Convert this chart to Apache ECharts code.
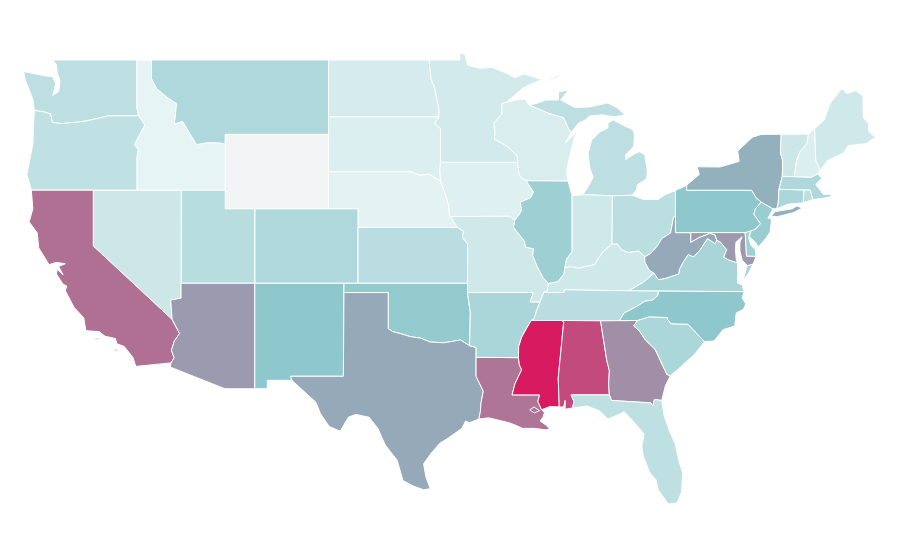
<!DOCTYPE html>
<html>
<head>
    <meta charset="UTF-8">
    <title>USA map</title>
    <script src="https://cdn.jsdelivr.net/npm/echarts@6/dist/echarts.min.js"></script>
</head>
<body style="margin:0; background:#fff">
    <div id="main" style="width:900px; height:560px"></div>
    <script>
        // values; Wyoming has no value and keeps the plain area colour
        var stateNames = ['Alabama','Arizona','Arkansas','California','Colorado','Connecticut','Delaware','Florida','Georgia','Idaho','Illinois','Indiana','Iowa','Kansas','Kentucky','Louisiana','Maine','Maryland','Massachusetts','Michigan','Minnesota','Mississippi','Missouri','Montana','Nebraska','Nevada','New Hampshire','New Jersey','New Mexico','New York','North Carolina','North Dakota','Ohio','Oklahoma','Oregon','Pennsylvania','Rhode Island','South Carolina','South Dakota','Tennessee','Texas','Utah','Vermont','Virginia','Washington','West Virginia','Wisconsin','Wyoming'];
        var stateValues = [86,56.5,17.5,75,16.5,17,20.5,11.8,61.5,1.3,20.8,7.5,3.5,13.5,7.5,73,7.5,57,16.5,12.5,6.7,100,7.5,16.5,2.2,8,4,22,25,43.5,25,6,13,24,11.5,25.5,12.5,17,4,13.5,50,13.8,8,17.8,12.5,50,4.8,'-'];
        var paletteColors = ['#ebf6f7','#8ec8cc','#95a9b8','#b07094','#d81a60'];

        // shared state borders in lon/lat
        var columbia = [[-124.0,46.28],[-123.4,46.22],[-122.9,46.1],[-122.78,45.65],[-122.2,45.58],[-121.2,45.65],[-120.5,45.72],[-119.3,45.93],[-118.98,46.0],[-116.92,46.0]];
        var snake = [[-116.92,46.0],[-116.5,45.5],[-116.85,45.0],[-117.2,44.45],[-116.95,44.2],[-117.03,43.8],[-117.03,42.0]];
        var idMt = [[-116.05,49.0],[-116.05,48.0],[-115.7,47.45],[-115.0,47.0],[-114.35,46.65],[-114.5,45.55],[-113.95,45.7],[-113.45,45.05],[-113.0,44.45],[-112.3,44.55],[-111.5,44.55],[-111.05,44.48]];
        var coloradoNv = [[-114.05,36.2],[-114.75,36.1],[-114.65,35.05]];
        var coloradoCa = [[-114.65,35.05],[-114.15,34.3],[-114.5,33.9],[-114.7,33.4],[-114.52,33.0],[-114.72,32.72]];
        var redRiverN = [[-97.23,49.0],[-97.1,48.0],[-96.85,47.5],[-96.55,46.3],[-96.56,45.94]];
        var sdMn = [[-96.56,45.94],[-96.85,45.6],[-96.45,45.3],[-96.45,43.5]];
        var sdIa = [[-96.45,43.5],[-96.5,43.05],[-96.45,42.49]];
        var sdNe = [[-104.05,43.0],[-98.5,43.0],[-97.9,42.8],[-97.2,42.85],[-96.7,42.6],[-96.45,42.49]];
        var neIa = [[-96.45,42.49],[-96.1,41.7],[-95.9,41.2],[-95.85,40.7],[-95.77,40.58]];
        var neMo = [[-95.77,40.58],[-95.3,40.0]];
        var ksMo = [[-95.3,40.0],[-94.9,39.8],[-94.95,39.45],[-94.61,39.11],[-94.62,37.0]];
        var redRiverS = [[-94.48,33.64],[-95.1,33.95],[-95.7,33.87],[-96.25,33.8],[-97.15,33.84],[-97.8,34.05],[-98.5,34.13],[-99.2,34.3],[-99.7,34.4],[-100.0,34.56]];
        var sabine = [[-94.04,32.0],[-93.55,31.2],[-93.7,30.6],[-93.75,30.1],[-93.85,29.7]];
        var mnWi = [[-92.02,46.71],[-92.29,46.66],[-92.29,46.08],[-92.85,45.6],[-92.75,45.1],[-92.8,44.75],[-92.0,44.4],[-91.25,43.85],[-91.22,43.5]];
        var iaWi = [[-91.22,43.5],[-91.15,43.0],[-91.05,42.73],[-90.64,42.51]];
        var iaIl = [[-90.64,42.51],[-90.15,41.9],[-90.34,41.6],[-91.05,41.35],[-90.95,40.95],[-91.1,40.7],[-91.42,40.38]];
        var moIl = [[-91.42,40.38],[-91.5,40.0],[-90.75,39.25],[-90.7,38.95],[-90.15,38.85],[-90.2,38.5],[-89.9,37.9],[-89.5,37.3],[-89.13,36.98]];
        var moKy = [[-89.13,36.98],[-89.2,36.6],[-89.45,36.5]];
        var moTn = [[-89.45,36.5],[-89.7,36.0]];
        var arTn = [[-89.7,36.0],[-89.95,35.5],[-90.1,35.1],[-90.3,35.0]];
        var arMs = [[-90.3,35.0],[-90.6,34.6],[-90.95,34.1],[-91.15,33.6],[-91.17,33.0]];
        var laMs = [[-91.17,33.0],[-91.1,32.6],[-90.95,32.35],[-91.4,31.6],[-91.6,31.0],[-89.73,31.0],[-89.85,30.65],[-89.6,30.2]];
        var ilKy = [[-89.13,36.98],[-88.5,37.08],[-88.07,37.5],[-88.03,37.8]];
        var inKy = [[-88.03,37.8],[-87.6,37.9],[-87.1,37.8],[-86.6,37.9],[-86.0,38.0],[-85.8,38.27],[-85.4,38.72],[-84.82,39.1]];
        var ohKy = [[-84.82,39.1],[-84.45,39.1],[-84.2,38.8],[-83.7,38.65],[-83.0,38.73],[-82.6,38.42]];
        var ohWv = [[-82.6,38.42],[-82.2,38.6],[-81.75,39.0],[-81.45,39.4],[-80.85,39.7],[-80.65,40.55],[-80.52,40.64]];
        var wabash = [[-88.03,37.8],[-87.9,38.3],[-87.53,38.7],[-87.53,39.35],[-87.53,41.7]];
        var kyWv = [[-82.6,38.42],[-82.6,38.15],[-82.3,37.7],[-81.97,37.54]];
        var kyVa = [[-81.97,37.54],[-82.7,37.05],[-83.68,36.6]];
        var tnNc = [[-81.68,36.59],[-81.7,36.35],[-82.05,36.1],[-82.6,36.03],[-83.1,35.77],[-84.0,35.4],[-84.32,34.99]];
        var msAl = [[-88.2,35.0],[-88.1,34.9],[-88.47,31.9],[-88.4,30.35]];
        var alGa = [[-85.6,34.98],[-85.18,32.87],[-85.0,32.3],[-85.05,31.55],[-85.0,31.0]];
        var gaSc = [[-83.1,35.0],[-83.35,34.7],[-83.0,34.47],[-82.55,33.95],[-81.9,33.45],[-81.4,32.6],[-81.1,32.1],[-80.87,32.03]];
        var gaFl = [[-85.0,31.0],[-84.86,30.7],[-82.2,30.57],[-82.05,30.4],[-81.95,30.75],[-81.45,30.7]];
        var ncSc = [[-83.1,35.0],[-82.3,35.2],[-81.05,35.15],[-81.05,35.05],[-80.8,34.82],[-79.67,34.8],[-78.55,33.86]];
        var wvVa = [[-81.97,37.54],[-81.68,37.2],[-81.25,37.25],[-80.3,37.5],[-80.25,37.75],[-79.95,38.2],[-79.65,38.55],[-79.3,38.42],[-78.87,38.77],[-78.35,39.4],[-77.83,39.13],[-77.72,39.32]];
        var mdVa = [[-77.72,39.32],[-77.45,39.2],[-77.04,38.8],[-77.25,38.4],[-76.9,38.25],[-76.32,38.1]];
        var mdWv = [[-79.48,39.72],[-79.48,39.2],[-78.95,39.45],[-78.4,39.62],[-78.2,39.69],[-77.83,39.6],[-77.72,39.32]];
        var paNj = [[-74.7,41.36],[-75.1,41.0],[-75.2,40.7],[-74.75,40.2],[-75.1,39.9],[-75.42,39.8]];
        var nyPa = [[-75.35,42.0],[-75.05,41.6],[-74.7,41.36]];
        var deCoast = [[-75.42,39.8],[-75.55,39.45],[-75.4,39.05],[-75.1,38.8],[-75.05,38.45]];
        var vtWest = [[-73.35,45.01],[-73.4,44.0],[-73.25,43.6],[-73.27,42.75]];
        var vtNh = [[-71.5,45.01],[-71.6,44.5],[-72.05,44.1],[-72.3,43.6],[-72.46,42.73]];
        var nhMe = [[-71.08,45.3],[-71.0,43.6],[-70.7,43.07]];
        var wiMi = [[-90.42,46.57],[-89.1,46.13],[-88.1,45.9],[-87.8,45.35],[-87.6,45.1]];

        function rev(a) { return a.slice().reverse(); }
        function ring() {
            var pts = [];
            for (var i = 0; i < arguments.length; i++) pts = pts.concat(arguments[i]);
            pts.push(pts[0]);
            return pts;
        }

        var shapes = {
            'Washington': [[ring([[-124.73,48.38],[-124.6,47.9],[-124.1,46.9]], columbia, [[-117.04,46.42],[-117.04,49.0],[-122.76,49.0],[-122.5,48.75],[-122.45,48.3],[-122.25,47.9],[-122.35,47.3],[-122.75,47.1],[-122.55,47.7],[-122.75,48.1],[-123.1,48.12]])]],
            'Oregon': [[ring(rev(columbia), [[-124.05,45.5],[-124.1,44.5],[-124.5,42.85],[-124.2,42.0]], rev(snake))]],
            'Idaho': [[ring([[-117.04,49.0]], idMt, [[-111.05,42.0]], rev(snake), [[-117.04,46.42]])]],
            'Montana': [[ring([[-104.05,49.0],[-104.05,45.0],[-111.05,45.0]], rev(idMt))]],
            'North Dakota': [[ring([[-104.05,49.0]], redRiverN, [[-104.05,45.94]])]],
            'South Dakota': [[ring([[-104.05,45.94]], sdMn, sdIa, rev(sdNe))]],
            'Wyoming': [[ring([[-111.05,45.0],[-104.05,45.0],[-104.05,41.0],[-111.05,41.0]])]],
            'Nebraska': [[ring(sdNe, neIa, neMo, [[-102.05,40.0],[-102.05,41.0],[-104.05,41.0]])]],
            'Colorado': [[ring([[-109.05,41.0],[-102.05,41.0],[-102.05,37.0],[-109.05,37.0]])]],
            'Kansas': [[ring([[-102.05,40.0]], ksMo, [[-102.05,37.0]])]],
            'Utah': [[ring([[-114.04,42.0],[-111.05,42.0],[-111.05,41.0],[-109.05,41.0],[-109.05,37.0],[-114.05,37.0]])]],
            'Nevada': [[ring([[-120.0,42.0],[-114.04,42.0],[-114.05,37.0]], coloradoNv, [[-120.0,39.0]])]],
            'California': [
                [ring([[-124.2,42.0],[-120.0,42.0],[-120.0,39.0]], coloradoCa, [[-117.12,32.53],[-117.3,33.0],[-117.9,33.6],[-118.4,33.75],[-118.5,34.03],[-119.2,34.15],[-119.6,34.4],[-120.5,34.45],[-120.65,35.15],[-121.3,35.7],[-121.9,36.6],[-121.8,36.85],[-122.05,36.95],[-122.5,37.5],[-122.45,37.75],[-122.05,37.45],[-122.35,37.9],[-121.9,38.05],[-122.5,38.12],[-123.0,38.0],[-123.7,38.9],[-123.8,39.7],[-124.35,40.3],[-124.1,41.0]])],
                [ring([[-119.9,34.05],[-119.6,34.05],[-119.6,33.97],[-119.9,33.97]])],
                [ring([[-118.6,33.48],[-118.35,33.4],[-118.35,33.33],[-118.6,33.4]])]
            ],
            'Arizona': [[ring([[-114.05,37.0],[-109.05,37.0],[-109.05,31.33],[-111.07,31.33],[-114.8,32.5]], rev(coloradoCa), rev(coloradoNv))]],
            'New Mexico': [[ring([[-109.05,37.0],[-103.0,37.0],[-103.04,32.0],[-106.62,32.0],[-106.53,31.78],[-108.2,31.78],[-108.2,31.33],[-109.05,31.33]])]],
            'Oklahoma': [[ring([[-103.0,37.0],[-94.62,37.0],[-94.62,36.5],[-94.43,35.4]], redRiverS, [[-100.0,36.5],[-103.0,36.5]])]],
            'Texas': [[ring([[-103.0,36.5],[-100.0,36.5]], rev(redRiverS), [[-94.04,33.55],[-94.04,33.02]], sabine, [[-94.5,29.5],[-94.75,29.6],[-95.0,29.2],[-95.9,28.7],[-96.5,28.4],[-97.1,27.85],[-97.6,27.3],[-97.45,26.6],[-97.15,25.96],[-97.6,25.9],[-98.3,26.1],[-99.0,26.4],[-99.4,27.5],[-100.2,28.3],[-100.7,29.2],[-101.3,29.8],[-102.2,29.95],[-102.7,29.8],[-103.25,29.05],[-104.0,29.3],[-104.6,30.0],[-104.9,30.6],[-106.53,31.78],[-106.62,32.0],[-103.04,32.0]])]],
            'Louisiana': [[ring([[-94.04,33.02]], laMs, [[-89.4,30.05],[-89.5,29.8],[-89.7,29.6],[-89.25,29.35],[-89.05,29.15],[-89.3,29.12],[-90.1,29.2],[-90.9,29.2],[-91.3,29.35],[-91.8,29.5],[-92.3,29.6],[-93.2,29.77]], rev(sabine)),
                ring([[-90.4,30.2],[-90.1,30.35],[-89.75,30.15],[-90.1,30.03]])]],
            'Arkansas': [[ring([[-94.62,36.5],[-90.15,36.5],[-90.37,36.0]], arTn, arMs, [[-94.04,33.02],[-94.04,33.55],[-94.48,33.64],[-94.43,35.4]])]],
            'Missouri': [[ring([[-95.77,40.58],[-91.73,40.61]], moIl, moKy, moTn, [[-90.37,36.0],[-90.15,36.5],[-94.62,36.5]], rev(ksMo), rev(neMo))]],
            'Iowa': [[ring([[-96.45,43.5]], iaWi, iaIl, [[-91.73,40.61]], rev(neIa), rev(sdIa))]],
            'Minnesota': [[ring(redRiverN, sdMn, rev(mnWi), [[-90.85,47.5],[-89.6,47.95],[-90.8,48.25],[-91.4,48.05],[-92.0,48.3],[-92.95,48.6],[-93.8,48.55],[-94.6,48.72],[-94.8,49.3],[-95.15,49.38],[-95.15,49.0]]).reverse()]],
            'Wisconsin': [[ring([[-92.02,46.71],[-91.2,46.87],[-90.75,46.9]], wiMi, [[-88.0,44.55],[-87.45,44.95],[-87.15,45.2],[-87.35,44.85],[-87.5,44.45],[-87.7,43.8],[-87.9,43.0],[-87.8,42.49]], rev(iaWi), rev(mnWi))]],
            'Michigan': [
                [ring(wiMi, [[-87.1,45.6],[-86.7,45.75],[-86.3,46.0],[-85.5,46.05],[-84.7,45.95],[-83.9,46.05],[-84.1,46.15],[-84.45,46.42],[-85.1,46.69],[-86.4,46.47],[-87.35,46.45],[-88.3,46.85],[-87.78,47.39],[-88.45,47.28],[-88.45,46.85],[-89.3,46.85],[-89.8,46.7]])],
                [ring([[-84.75,45.78],[-85.1,45.6],[-85.1,45.35],[-85.6,45.15],[-86.2,44.7],[-86.45,43.95],[-86.33,43.2],[-86.1,42.7],[-86.5,42.1],[-86.82,41.76],[-84.8,41.7],[-83.45,41.73],[-83.15,42.05],[-83.1,42.3],[-82.5,42.6],[-82.42,43.0],[-82.6,43.9],[-82.95,44.07],[-83.3,43.95],[-83.9,43.65],[-83.9,43.9],[-83.35,44.35],[-83.3,45.0],[-83.4,45.25],[-84.1,45.5]])],
                [ring([[-89.2,47.85],[-88.5,48.17],[-88.45,48.1],[-89.1,47.85]])]
            ],
            'Illinois': [[ring(iaIl, moIl, ilKy, wabash, [[-87.8,42.49]])]],
            'Indiana': [[ring([[-87.53,41.7],[-86.82,41.76],[-84.8,41.7]], rev(inKy), wabash.slice(1, 4))]],
            'Ohio': [[ring([[-84.8,41.7],[-83.45,41.73],[-82.7,41.5],[-81.7,41.5],[-81.2,41.77],[-80.52,41.98]], rev(ohWv), rev(ohKy))]],
            'Kentucky': [[ring(ilKy, inKy, ohKy, kyWv, kyVa, [[-86.0,36.62],[-88.05,36.65],[-88.07,36.5]], rev(moKy))]],
            'Tennessee': [[ring([[-89.45,36.5],[-88.07,36.5],[-88.05,36.65],[-86.0,36.62],[-83.68,36.6]], tnNc, rev(arTn), rev(moTn))]],
            'Mississippi': [[ring(msAl, [[-89.0,30.38]], rev(laMs), rev(arMs))]],
            'Alabama': [[ring(alGa, [[-87.6,31.0],[-87.4,30.65],[-87.5,30.3],[-88.0,30.23],[-88.0,30.7],[-88.1,30.35]], rev(msAl))]],
            'Georgia': [[ring(rev(gaSc), alGa, gaFl, [[-81.2,31.5]])]],
            'Florida': [[ring([[-87.6,31.0]], gaFl, [[-81.3,29.9],[-80.9,29.0],[-80.55,28.4],[-80.3,27.5],[-80.03,26.8],[-80.1,25.8],[-80.4,25.2],[-81.0,25.13],[-81.7,25.9],[-81.85,26.45],[-82.25,26.8],[-82.7,27.7],[-82.8,28.2],[-82.65,28.9],[-83.4,29.6],[-84.0,30.1],[-84.35,29.95],[-85.1,29.7],[-85.7,30.15],[-86.5,30.4],[-87.5,30.3],[-87.4,30.65]])]],
            'South Carolina': [[ring(ncSc, [[-79.2,33.2],[-79.9,32.7],[-80.45,32.3]], rev(gaSc))]],
            'North Carolina': [[ring(rev(tnNc), [[-75.87,36.55],[-76.0,36.2],[-75.75,35.9],[-75.9,35.6],[-76.4,35.4],[-76.5,34.7],[-77.3,34.5],[-77.9,33.9]], rev(ncSc))]],
            'Virginia': [
                [ring([[-83.68,36.6]], rev(kyVa), wvVa, mdVa, [[-76.3,37.5],[-76.3,37.0],[-76.0,36.92],[-75.87,36.55],[-81.68,36.59]])],
                [ring([[-75.95,37.15],[-75.65,37.95],[-75.25,38.03],[-75.6,37.5]])]
            ],
            'West Virginia': [[ring(ohWv, [[-80.52,39.72]], mdWv, rev(wvVa), rev(kyWv))]],
            'Pennsylvania': [[ring([[-80.52,41.98],[-79.76,42.27],[-79.76,42.0]], nyPa, paNj, [[-75.79,39.72],[-80.52,39.72]])]],
            'Maryland': [[ring([[-79.48,39.72],[-75.79,39.72],[-75.7,38.46],[-75.05,38.45],[-75.25,38.03],[-75.65,37.95],[-76.0,38.25],[-76.15,38.75],[-76.15,39.2],[-76.0,39.5],[-76.42,39.2],[-76.45,38.8],[-76.4,38.3]], rev(mdVa), rev(mdWv))]],
            'Delaware': [[ring([[-75.79,39.72]], deCoast, [[-75.7,38.46]])]],
            'New Jersey': [[ring(paNj, [[-75.5,39.5],[-75.1,39.2],[-74.9,38.95],[-74.4,39.4],[-74.1,39.75],[-74.0,40.45],[-74.25,40.5],[-73.9,41.0]])]],
            'New York': [
                [ring([[-79.76,42.0],[-79.76,42.27],[-78.9,42.85],[-79.05,43.26],[-77.5,43.25],[-76.2,43.55],[-76.3,44.1],[-75.3,44.85],[-74.7,45.0]], vtWest, [[-73.5,42.05],[-73.55,41.3],[-73.65,41.0],[-73.9,41.0]], rev(nyPa))],
                [ring([[-74.03,40.6],[-73.75,40.85],[-72.6,41.0],[-72.3,41.15],[-71.9,41.05],[-72.5,40.8],[-73.6,40.58]])]
            ],
            'Connecticut': [[ring([[-73.5,42.05],[-71.8,42.02],[-71.85,41.32],[-72.9,41.25],[-73.65,41.0],[-73.55,41.3]])]],
            'Rhode Island': [[ring([[-71.8,42.02],[-71.38,42.02],[-71.2,41.5],[-71.85,41.32]])]],
            'Massachusetts': [[ring([[-73.27,42.75],[-72.46,42.73],[-71.3,42.7],[-70.9,42.88],[-70.6,42.65],[-71.0,42.3],[-70.65,41.95],[-70.5,41.78],[-70.0,41.78],[-70.05,42.05],[-70.25,42.07],[-69.95,41.9],[-69.97,41.65],[-70.65,41.55],[-71.2,41.5],[-71.38,42.02],[-71.8,42.02],[-73.5,42.05]])]],
            'Vermont': [[ring(vtWest, rev(vtNh))]],
            'New Hampshire': [[ring([[-71.5,45.01]], nhMe, [[-70.9,42.88],[-71.3,42.7]], rev(vtNh))]],
            'Maine': [[ring([[-71.08,45.3],[-70.4,45.8],[-70.25,46.2],[-70.0,46.7],[-69.23,47.46],[-68.9,47.2],[-68.3,47.35],[-67.8,47.07],[-67.78,45.9],[-67.45,45.6],[-67.4,45.15],[-66.97,44.83],[-67.6,44.5],[-68.8,44.4],[-69.1,44.0],[-69.8,43.75],[-70.2,43.6],[-70.7,43.07],[-71.0,43.6]])]]
        };

        var features = [];
        for (var name in shapes) {
            features.push({
                type: 'Feature',
                properties: { name: name },
                geometry: { type: 'MultiPolygon', coordinates: shapes[name] }
            });
        }
        echarts.registerMap('USA', { type: 'FeatureCollection', features: features });

        var seriesData = [];
        for (var i = 0; i < stateNames.length; i++) {
            seriesData.push({ name: stateNames[i], value: stateValues[i] });
        }

        var chart = echarts.init(document.getElementById('main'), null, { renderer: 'canvas' });
        chart.setOption({
            backgroundColor: '#ffffff',
            animation: false,
            visualMap: {
                show: false,
                min: 0,
                max: 100,
                inRange: { color: paletteColors }
            },
            series: [{
                type: 'map',
                map: 'USA',
                roam: false,
                aspectScale: 0.7925,
                layoutCenter: [449.4, 278.5],
                layoutSize: 851.7,
                label: { show: false },
                itemStyle: { areaColor: '#f3f4f6', borderColor: '#ffffff', borderWidth: 1 },
                data: seriesData
            }]
        });
    </script>
</body>
</html>
